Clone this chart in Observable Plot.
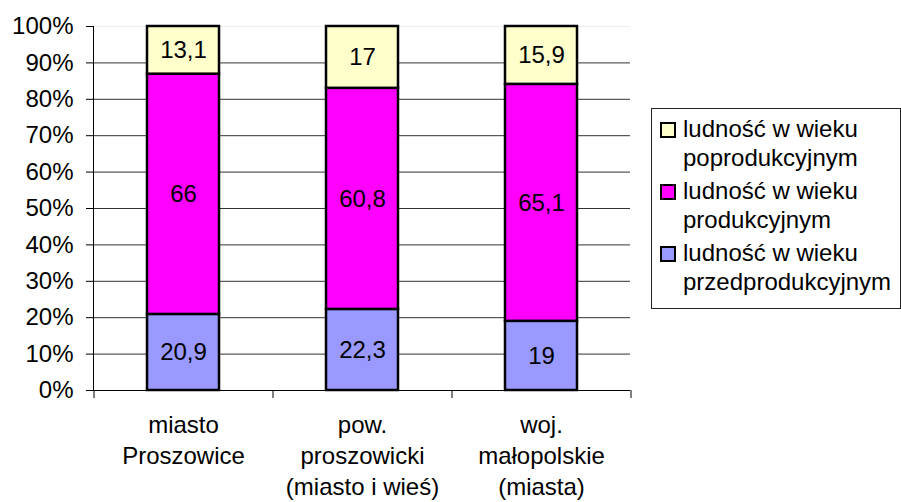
<!DOCTYPE html>
<html><head><meta charset="utf-8">
<script src="https://cdn.jsdelivr.net/npm/d3@7"></script>
<script src="https://cdn.jsdelivr.net/npm/@observablehq/plot@0.6"></script>
<style>
body{margin:0;background:#fff;font-family:Arial,"Liberation Sans",sans-serif;}
#wrap{position:relative;width:901px;height:502px;}
#legend{position:absolute;left:651px;top:108px;width:250px;height:201px;border:1px solid #222;box-sizing:border-box;font-size:24px;color:#000;background:#fff;}
.item{position:absolute;left:0;width:100%;}
.sw{position:absolute;left:8px;width:12px;height:12px;border:2px solid #000;}
.tx{position:absolute;left:31px;line-height:29px;white-space:nowrap;}
</style></head>
<body><div id="wrap"></div>
<script>
const categories = ["miasto\nProszowice", "pow.\nproszowicki\n(miasto i wieś)", "woj.\nmałopolskie\n(miasta)"];
const seriesNames = ["ludność w wieku przedprodukcyjnym", "ludność w wieku produkcyjnym", "ludność w wieku poprodukcyjnym"];
const legendLines = [["ludność w wieku", "poprodukcyjnym"], ["ludność w wieku", "produkcyjnym"], ["ludność w wieku", "przedprodukcyjnym"]];
const przedprodukcyjny = [20.9, 22.3, 19];
const produkcyjny = [66, 60.8, 65.1];
const poprodukcyjny = [13.1, 17, 15.9];
const colors = ["#9999FF", "#FF00FF", "#FFFFCC"];

const seriesValues = [przedprodukcyjny, produkcyjny, poprodukcyjny];
const data = [];
seriesNames.forEach((s, si) => categories.forEach((c, ci) => data.push({cat: c, series: s, value: seriesValues[si][ci]})));

const fmt = v => String(v).replace(".", ",");
const font = "Arial, 'Liberation Sans', sans-serif";
const halfStep = 89.5;

const chart = Plot.plot({
  width: 901, height: 502,
  marginLeft: 93, marginRight: 271, marginTop: 26, marginBottom: 112,
  style: {fontFamily: font, fontSize: "24px", color: "#000", background: "#fff"},
  x: {domain: categories, paddingInner: 0.6, paddingOuter: 0.3, label: null},
  y: {domain: [0, 1], label: null},
  color: {domain: seriesNames, range: colors},
  marks: [
    Plot.gridY({ticks: d3.range(1, 10).map(i => i / 10), stroke: "#333", strokeOpacity: 1}),
    Plot.ruleY([1], {stroke: "#eee"}),
    Plot.barY(data, Plot.stackY({offset: "normalize", order: null}, {x: "cat", y: "value", z: "series", fill: "series", stroke: "#000", strokeWidth: 2.5})),
    Plot.text(data, Plot.stackY({offset: "normalize", order: null}, {x: "cat", y: "value", z: "series", text: d => fmt(d.value), fill: "#000", fontSize: 24})),
    Plot.ruleY([0], {stroke: "#000"}),
    Plot.frame({anchor: "left", stroke: "#000"}),
    Plot.axisY({ticks: d3.range(0, 11).map(i => i / 10), tickFormat: d3.format(".0%"), tickSize: 7, tickPadding: 13, fontSize: 24, stroke: "#000"}),
    Plot.ruleX(categories, {x: d => d, dx: -halfStep, y1: 0, y2: 0, insetBottom: -8, stroke: "#000"}),
    Plot.ruleX([categories[categories.length - 1]], {x: d => d, dx: halfStep, y1: 0, y2: 0, insetBottom: -8, stroke: "#000"}),
    Plot.axisX({tickSize: 0, tickPadding: 20, lineHeight: 1.3, fontSize: 24})
  ]
});
const wrap = document.getElementById("wrap");
wrap.appendChild(chart);

const legend = document.createElement("div");
legend.id = "legend";
const legendColors = [colors[2], colors[1], colors[0]];
legendLines.forEach((lines, i) => {
  const item = document.createElement("div");
  item.className = "item";
  item.style.top = (5 + i * 62) + "px";
  const sw = document.createElement("div");
  sw.className = "sw";
  sw.style.top = "8px";
  sw.style.background = legendColors[i];
  const tx = document.createElement("div");
  tx.className = "tx";
  tx.style.top = "0px";
  tx.innerHTML = lines.join("<br>");
  item.appendChild(sw); item.appendChild(tx);
  legend.appendChild(item);
});
wrap.appendChild(legend);
</script></body></html>
